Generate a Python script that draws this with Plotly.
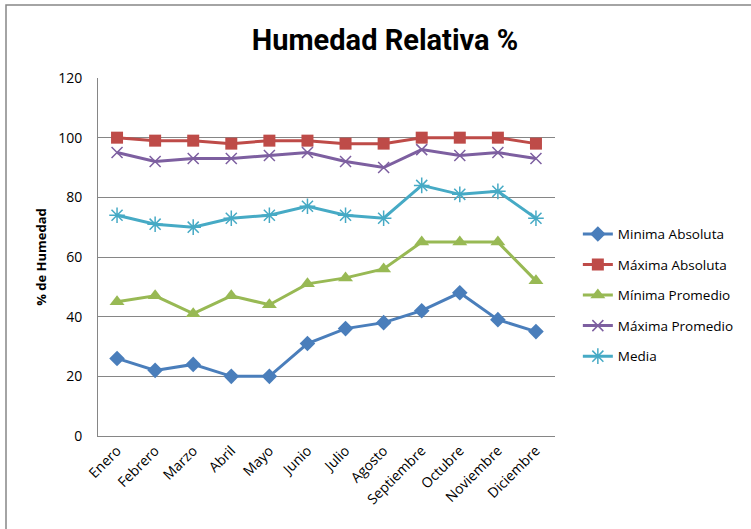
import plotly.graph_objects as go

meses = ["Enero", "Febrero", "Marzo", "Abril", "Mayo", "Junio", "Julio", "Agosto",
         "Septiembre", "Octubre", "Noviembre", "Diciembre"]
minima_absoluta = [26, 22, 24, 20, 20, 31, 36, 38, 42, 48, 39, 35]
maxima_absoluta = [100, 99, 99, 98, 99, 99, 98, 98, 100, 100, 100, 98]
minima_promedio = [45, 47, 41, 47, 44, 51, 53, 56, 65, 65, 65, 52]
maxima_promedio = [95, 92, 93, 93, 94, 95, 92, 90, 96, 94, 95, 93]
media = [74, 71, 70, 73, 74, 77, 74, 73, 84, 81, 82, 73]

series = [
    ("Minima Absoluta", minima_absoluta, "#4A7EBB", "diamond", 12, 0),
    ("Máxima Absoluta", maxima_absoluta, "#BE4B48", "square", 12, 0),
    ("Mínima Promedio", minima_promedio, "#98B954", "triangle-up", 13, 0),
    ("Máxima Promedio", maxima_promedio, "#7D5FA0", "x-thin-open", 11, 1.5),
    ("Media", media, "#46AAC5", "asterisk-open", 13, 1.5),
]

fig = go.Figure()
for i, (name, vals, color, sym, size, lw) in enumerate(series):
    fig.add_trace(go.Scatter(
        x=meses, y=vals, name=name, mode="lines+markers",
        line=dict(color=color, width=3),
        marker=dict(symbol=sym, size=size, color=color,
                    line=dict(color=color, width=lw)),
        legendgroup=f"g{i}",
    ))

font_title = "Roboto, Liberation Sans, sans-serif"
font_tick = "Open Sans, Liberation Sans, sans-serif"

fig.update_layout(
    width=751, height=529,
    margin=dict(l=98, r=196, t=78, b=93),
    paper_bgcolor="white", plot_bgcolor="white",
    title=dict(text="<b>Humedad Relativa %</b>", x=385 / 751, xanchor="center",
               y=1 - 40 / 529, yanchor="middle",
               font=dict(family=font_title, size=29, color="black")),
    xaxis=dict(tickangle=-45, showgrid=False, showline=True, linecolor="#868686",
               linewidth=1, ticks="", tickfont=dict(family=font_tick, size=14, color="black"),
               range=[-0.5, 11.5]),
    yaxis=dict(range=[0, 120], dtick=20, showgrid=True, gridcolor="#868686", gridwidth=1,
               showline=True, linecolor="#868686", linewidth=1, zeroline=False,
               tickfont=dict(family=font_tick, size=14, color="black"),
               ticks="", ticklabelstandoff=12,
               title=dict(text="<b>% de Humedad</b>",
                          font=dict(family=font_tick, size=13, color="black"),
                          standoff=8)),
    legend=dict(x=1.05, y=0.607, xanchor="left", yanchor="top",
                font=dict(family=font_tick, size=13.5, color="black"),
                tracegroupgap=10, traceorder="grouped", itemwidth=30),
    showlegend=True,
)

fig.add_shape(type="rect", xref="paper", yref="paper",
              x0=(6 - 98) / 457, x1=(760 - 98) / 457,
              y0=(436 - 540) / 358, y1=(436 - 5) / 358,
              line=dict(color="#868686", width=1.5), layer="below")

fig.write_html("out.html", config={"displayModeBar": False},
               post_script="document.body.style.margin='0';")
